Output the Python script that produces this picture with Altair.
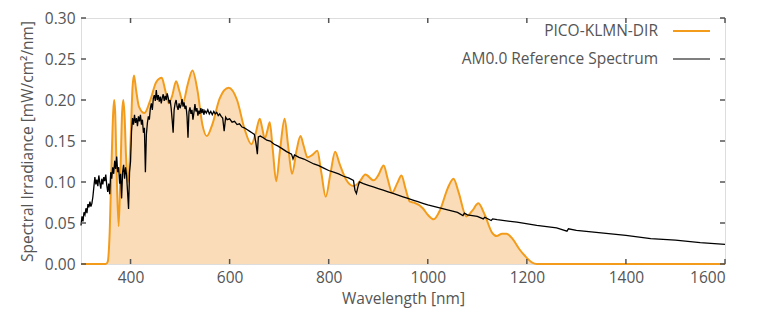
import altair as alt
import pandas as pd

# ---------------- data ----------------
am0_nm = [300, 302, 304, 306, 308, 310, 312, 314, 316, 318, 320, 322, 324, 326, 328, 330,
          332, 334, 336, 338, 340, 342, 344, 346, 348, 350, 352, 354, 356, 358, 360, 362,
          364, 366, 368, 370, 372, 374, 376, 378, 380, 382, 384, 386, 388, 390, 392, 394,
          396, 398, 400, 402, 404, 406, 408, 410, 412, 414, 416, 418, 420, 422, 424, 426,
          428, 430, 432, 434, 436, 438, 440, 442, 444, 446, 448, 450, 452, 454, 456, 458,
          460, 462, 464, 466, 468, 470, 472, 474, 476, 478, 480, 482, 484, 486, 488, 490,
          492, 494, 496, 498, 500, 502, 504, 506, 508, 510, 512, 514, 516, 518, 520, 522,
          524, 526, 528, 530, 532, 534, 536, 538, 540, 542, 544, 546, 548, 550, 553, 556,
          559, 562, 565, 568, 571, 574, 577, 580, 583, 586, 589, 592, 595, 600, 605, 610,
          615, 620, 625, 630, 635, 640, 645, 650, 653, 656, 658, 662, 668, 675, 682, 690,
          697, 705, 715, 725, 728, 731, 740, 750, 760, 770, 780, 790, 800, 810, 820, 830,
          840, 850, 853, 856, 859, 862, 870, 880, 890, 900, 910, 920, 930, 940, 950, 960,
          970, 980, 990, 1000, 1020, 1040, 1060, 1071, 1074, 1080, 1100, 1112, 1115, 1128,
          1131, 1140, 1180, 1220, 1260, 1281, 1284, 1300, 1350, 1400, 1450, 1500, 1550, 1600]
am0_val = [0.047, 0.058, 0.052, 0.063, 0.060, 0.068, 0.062, 0.073, 0.069, 0.076, 0.070, 0.074,
           0.082, 0.094, 0.106, 0.097, 0.103, 0.095, 0.108, 0.099, 0.092, 0.104, 0.097, 0.106,
           0.101, 0.109, 0.096, 0.088, 0.098, 0.085, 0.112, 0.104, 0.118, 0.110, 0.126, 0.116,
           0.131, 0.112, 0.118, 0.098, 0.110, 0.080, 0.112, 0.121, 0.104, 0.118, 0.108, 0.088,
           0.067, 0.112, 0.125, 0.162, 0.178, 0.170, 0.182, 0.172, 0.178, 0.168, 0.180, 0.174,
           0.182, 0.170, 0.176, 0.160, 0.166, 0.112, 0.158, 0.172, 0.180, 0.176, 0.190, 0.196,
           0.188, 0.202, 0.206, 0.199, 0.212, 0.200, 0.206, 0.198, 0.204, 0.196, 0.203, 0.207,
           0.199, 0.205, 0.200, 0.208, 0.203, 0.196, 0.200, 0.190, 0.176, 0.160, 0.188, 0.196,
           0.200, 0.192, 0.188, 0.196, 0.190, 0.194, 0.201, 0.192, 0.197, 0.189, 0.193, 0.180,
           0.154, 0.186, 0.191, 0.183, 0.188, 0.176, 0.185, 0.195, 0.186, 0.190, 0.181, 0.187,
           0.183, 0.190, 0.184, 0.189, 0.182, 0.187, 0.184, 0.188, 0.183, 0.186, 0.182, 0.186,
           0.183, 0.185, 0.181, 0.183, 0.180, 0.178, 0.162, 0.179, 0.176, 0.177, 0.173, 0.174,
           0.170, 0.171, 0.167, 0.166, 0.164, 0.162, 0.160, 0.158, 0.148, 0.134, 0.155, 0.156,
           0.154, 0.151, 0.150, 0.146, 0.144, 0.141, 0.137, 0.134, 0.128, 0.133, 0.130, 0.128,
           0.125, 0.122, 0.120, 0.117, 0.114, 0.112, 0.110, 0.107, 0.105, 0.102, 0.090, 0.086,
           0.094, 0.100, 0.098, 0.096, 0.094, 0.092, 0.090, 0.088, 0.086, 0.084, 0.082, 0.080,
           0.078, 0.076, 0.074, 0.072, 0.069, 0.066, 0.063, 0.059, 0.062, 0.060, 0.058, 0.055,
           0.057, 0.053, 0.055, 0.054, 0.051, 0.047, 0.044, 0.040, 0.043, 0.041, 0.038, 0.035,
           0.031, 0.029, 0.026, 0.024]

pico_nm = [300, 350, 354, 358, 362, 365, 367, 369, 372, 376, 380, 383, 385.5, 388, 391, 395,
           400, 404, 407, 411, 417, 428, 440, 452, 463, 470, 477, 484, 492, 499, 506, 515,
           525, 535, 545, 554, 565, 580, 598, 615, 630, 644, 652, 661, 666, 671, 676, 681,
           687, 694, 702, 711, 718, 726, 735, 743, 750, 757, 767, 777, 785, 794, 804, 813,
           822, 835, 850, 862, 874, 891, 900, 911, 919, 928, 938, 947, 955, 964, 972, 990,
           1000, 1012, 1025, 1040, 1052, 1062, 1078, 1090, 1102, 1115, 1130, 1139, 1150,
           1159, 1172, 1185, 1196, 1210, 1220, 1600]
pico_val = [0.0, 0.0, 0.003, 0.04, 0.13, 0.185, 0.200, 0.185, 0.11, 0.046, 0.12, 0.185, 0.200,
            0.18, 0.13, 0.10, 0.15, 0.215, 0.230, 0.213, 0.192, 0.184, 0.200, 0.222, 0.227,
            0.212, 0.196, 0.205, 0.223, 0.210, 0.197, 0.218, 0.236, 0.212, 0.170, 0.156, 0.170,
            0.202, 0.215, 0.200, 0.165, 0.146, 0.158, 0.177, 0.165, 0.153, 0.162, 0.173, 0.140,
            0.101, 0.140, 0.177, 0.145, 0.110, 0.138, 0.156, 0.143, 0.130, 0.133, 0.138, 0.112,
            0.082, 0.112, 0.137, 0.122, 0.103, 0.095, 0.100, 0.109, 0.102, 0.108, 0.120, 0.104,
            0.087, 0.098, 0.108, 0.092, 0.076, 0.075, 0.068, 0.060, 0.0545, 0.066, 0.092, 0.104,
            0.088, 0.058, 0.065, 0.074, 0.060, 0.038, 0.034, 0.037, 0.037, 0.030, 0.018, 0.010,
            0.002, 0.0, 0.0]

x_ticks = [400, 600, 800, 1000, 1200, 1400, 1600]
y_ticks = [0.00, 0.05, 0.10, 0.15, 0.20, 0.25, 0.30]
series_names = ["PICO-KLMN-DIR", "AM0.0 Reference Spectrum"]

# ---------------- style ----------------
W, H = 644, 246
FONT = "Open Sans"
GRAY = "#555555"
ORANGE = "#F39C1C"
FILL = "#FADDB8"
TICK = 5
FS = 15.5

am0 = pd.DataFrame({"nm": am0_nm, "val": am0_val})
pico = pd.DataFrame({"nm": pico_nm, "val": pico_val})
xt = pd.DataFrame({"nm": x_ticks})
yt = pd.DataFrame({"val": y_ticks})

xs = alt.Scale(domain=[300, 1600], nice=False, zero=False)
ys = alt.Scale(domain=[0, 0.30], nice=False)

x_axis = alt.Axis(values=x_ticks, format="d", title="Wavelength [nm]", ticks=False, tickSize=0,
                  domain=False, grid=False, labelFontSize=FS, labelColor=GRAY,
                  titleFontSize=FS, titleColor=GRAY, titleFontWeight="normal",
                  labelFont=FONT, titleFont=FONT, labelPadding=6, titlePadding=6)
y_axis = alt.Axis(values=y_ticks, format=".2f", title="Spectral Irradiance [mW/cm²/nm]",
                  ticks=False, tickSize=0, domain=False, grid=False, labelFontSize=FS,
                  labelColor=GRAY, titleFontSize=FS, titleColor=GRAY,
                  titleFontWeight="normal", labelFont=FONT, titleFont=FONT,
                  labelPadding=6, titlePadding=9)

X = alt.X("nm:Q", scale=xs, axis=x_axis)
Y = alt.Y("val:Q", scale=ys, axis=y_axis)

area = alt.Chart(pico).mark_area(interpolate="monotone", color=FILL, opacity=1).encode(x=X, y=Y)
pico_line = alt.Chart(pico).mark_line(interpolate="monotone", color=ORANGE,
                                      strokeWidth=2).encode(x=X, y=Y)
am0_line = alt.Chart(am0).mark_line(color="black", strokeWidth=1.3).encode(x=X, y=Y)

tick_style = dict(color=GRAY, strokeWidth=1.5)
bottom_ticks = alt.Chart(xt).mark_rule(**tick_style).encode(
    x=X, y=alt.value(H), y2=alt.value(H - TICK))
top_ticks = alt.Chart(xt).mark_rule(**tick_style).encode(
    x=X, y=alt.value(0), y2=alt.value(TICK))
left_ticks = alt.Chart(yt).mark_rule(**tick_style).encode(
    y=Y, x=alt.value(0), x2=alt.value(TICK))
right_ticks = alt.Chart(yt).mark_rule(**tick_style).encode(
    y=Y, x=alt.value(W), x2=alt.value(W - TICK))

# manual legend (labels left of the line samples)
leg1_text = alt.Chart(pd.DataFrame({"name": [series_names[0]]})).mark_text(
    align="right", baseline="middle", fontSize=FS, font=FONT, color=GRAY).encode(
    text="name:N", x=alt.value(577), y=alt.value(13))
leg1_line = alt.Chart(pd.DataFrame({"name": [series_names[0]]})).mark_rule(
    color=ORANGE, strokeWidth=2).encode(x=alt.value(592), x2=alt.value(629), y=alt.value(13))
leg2_text = alt.Chart(pd.DataFrame({"name": [series_names[1]]})).mark_text(
    align="right", baseline="middle", fontSize=FS, font=FONT, color=GRAY).encode(
    text="name:N", x=alt.value(577), y=alt.value(41))
leg2_line = alt.Chart(pd.DataFrame({"name": [series_names[1]]})).mark_rule(
    color="black", strokeWidth=1.2).encode(x=alt.value(592), x2=alt.value(629), y=alt.value(41))

chart = alt.layer(
    area, pico_line, am0_line,
    bottom_ticks, top_ticks, left_ticks, right_ticks,
    leg1_text, leg1_line, leg2_text, leg2_line,
).properties(
    width=W, height=H,
    autosize=alt.AutoSizeParams(type="none"),
    padding={"left": 73, "top": 10, "right": 29, "bottom": 48},
).configure_view(
    stroke=GRAY, strokeWidth=1.5
).configure(background="white")

chart.save("out.html", embed_options={"renderer": "svg", "actions": False})
